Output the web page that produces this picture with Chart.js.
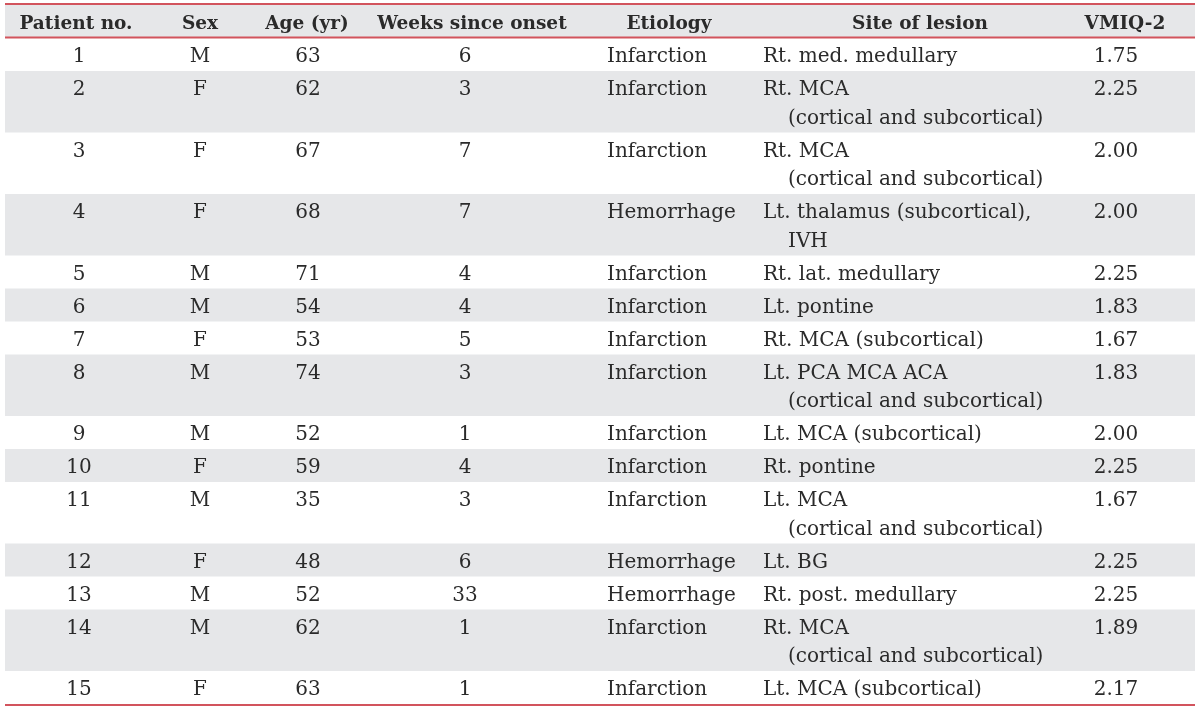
<!DOCTYPE html>
<html><head><meta charset="utf-8">
<script src="https://cdn.jsdelivr.net/npm/chart.js@4.4.1/dist/chart.umd.min.js"></script>
<style>html,body{margin:0;padding:0;background:#fff}#wrap{width:1200px;height:709px;position:relative}</style>
</head><body><div id="wrap"><canvas id="c"></canvas></div>
<script>
// ---- data ----
const headers = ['Patient no.', 'Sex', 'Age (yr)', 'Weeks since onset', 'Etiology', 'Site of lesion', 'VMIQ-2'];
const patientNo = [1,2,3,4,5,6,7,8,9,10,11,12,13,14,15];
const sex = ['M','F','F','F','M','M','F','M','M','F','M','F','M','M','F'];
const age = [63,62,67,68,71,54,53,74,52,59,35,48,52,62,63];
const weeksSinceOnset = [6,3,7,7,4,4,5,3,1,4,3,6,33,1,1];
const etiology = ['Infarction','Infarction','Infarction','Hemorrhage','Infarction','Infarction','Infarction','Infarction','Infarction','Infarction','Infarction','Hemorrhage','Hemorrhage','Infarction','Infarction'];
const siteOfLesion = [
  'Rt. med. medullary',
  'Rt. MCA\n(cortical and subcortical)',
  'Rt. MCA\n(cortical and subcortical)',
  'Lt. thalamus (subcortical),\nIVH',
  'Rt. lat. medullary',
  'Lt. pontine',
  'Rt. MCA (subcortical)',
  'Lt. PCA MCA ACA\n(cortical and subcortical)',
  'Lt. MCA (subcortical)',
  'Rt. pontine',
  'Lt. MCA\n(cortical and subcortical)',
  'Lt. BG',
  'Rt. post. medullary',
  'Rt. MCA\n(cortical and subcortical)',
  'Lt. MCA (subcortical)'
];
const vmiq2 = [1.75,2.25,2.00,2.00,2.25,1.83,1.67,1.83,2.00,2.25,1.67,2.25,2.25,1.89,2.17];

// ---- layout / style (not data) ----
const colX      = [79, 200, 308, 465, 607, 763, 1116];
const colAlign  = ['center','center','center','center','left','left','center'];
const headX     = [76, 200, 307, 472, 669, 920, 1125];
const contIndent = 25;
const TABLE_L = 5, TABLE_R = 1195;
const TOP_LINE = 4, HEAD_BOTTOM = 37.5, HEAD_BASE = 29;
const ROW_PAD = 4.5, LINE_H = 28.5, FIRST_BASE = 24;
const FONT = '"DejaVu Serif", serif';
const TXT = '#2a2a2a', GRAY = '#e6e7e9', RED = '#d2545d';

const columns = [
  patientNo.map(String),
  sex,
  age.map(String),
  weeksSinceOnset.map(String),
  etiology,
  siteOfLesion,
  vmiq2.map(v => v.toFixed(2))
];
const nLines = siteOfLesion.map(s => s.split('\n').length);
const rowTop = [];
let acc = HEAD_BOTTOM + 0.5;
nLines.forEach(n => { rowTop.push(acc); acc += ROW_PAD + LINE_H * n; });
const rowBottom = rowTop.map((t, i) => t + ROW_PAD + LINE_H * nLines[i]);

const datasets = columns.map((col, c) => ({
  label: headers[c],
  data: col.map((_, i) => ({ x: colX[c], y: rowTop[i] + FIRST_BASE })),
  pointRadius: 0, pointHoverRadius: 0, showLine: false
}));

const tablePlugin = {
  id: 'table',
  beforeDatasetsDraw(chart) {
    const { ctx, scales: { x, y } } = chart;
    ctx.save();
    const L = x.getPixelForValue(TABLE_L), R = x.getPixelForValue(TABLE_R);
    ctx.fillStyle = GRAY;
    const hT = y.getPixelForValue(TOP_LINE), hB = y.getPixelForValue(HEAD_BOTTOM);
    ctx.fillRect(L, hT, R - L, hB - hT);
    rowTop.forEach((t, i) => {
      if (i % 2 === 1) {
        const a = y.getPixelForValue(t), b = y.getPixelForValue(rowBottom[i]);
        ctx.fillRect(L, a, R - L, b - a);
      }
    });
    ctx.strokeStyle = RED; ctx.lineWidth = 2;
    [TOP_LINE, HEAD_BOTTOM, rowBottom[rowBottom.length - 1] + 1].forEach(v => {
      const p = y.getPixelForValue(v);
      ctx.beginPath(); ctx.moveTo(L, p); ctx.lineTo(R, p); ctx.stroke();
    });
    ctx.restore();
  },
  afterDatasetsDraw(chart) {
    const { ctx, scales: { x, y } } = chart;
    ctx.save();
    ctx.fillStyle = TXT;
    ctx.textBaseline = 'alphabetic';
    ctx.font = 'bold 18.5px ' + FONT;
    ctx.textAlign = 'center';
    headers.forEach((h, c) => ctx.fillText(h, x.getPixelForValue(headX[c]), y.getPixelForValue(HEAD_BASE)));
    ctx.font = '20px ' + FONT;
    columns.forEach((col, c) => {
      const meta = chart.getDatasetMeta(c);
      ctx.textAlign = colAlign[c];
      col.forEach((txt, i) => {
        const el = meta.data[i];
        txt.split('\n').forEach((line, k) => {
          const px = k === 0 ? el.x : x.getPixelForValue(colX[c] + contIndent);
          const py = k === 0 ? el.y : y.getPixelForValue(rowTop[i] + FIRST_BASE + LINE_H * k);
          ctx.fillText(line, px, py);
        });
      });
    });
    ctx.restore();
  }
};

new Chart(document.getElementById('c'), {
  type: 'scatter',
  data: { datasets },
  options: {
    responsive: true, maintainAspectRatio: false, animation: false,
    layout: { padding: 0 },
    plugins: { legend: { display: false }, tooltip: { enabled: false } },
    scales: {
      x: { type: 'linear', min: 0, max: 1200, display: false },
      y: { type: 'linear', min: 0, max: 709, reverse: true, display: false }
    }
  },
  plugins: [tablePlugin]
});
</script></body></html>
